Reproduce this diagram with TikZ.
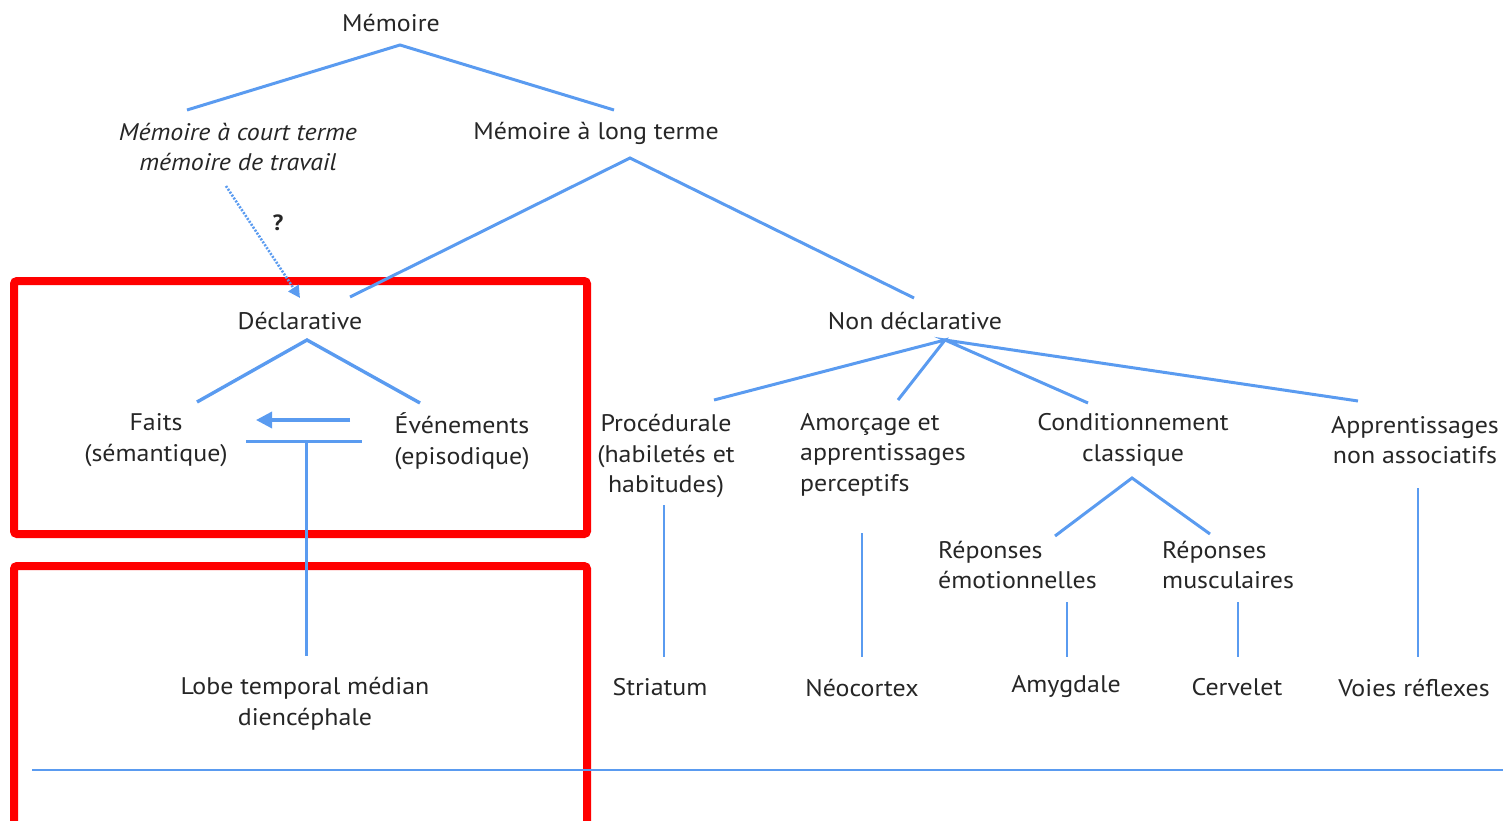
\documentclass[tikz,border=0pt]{standalone}
\usepackage{fontspec}
\setmainfont{PT Sans}[FakeStretch=1.08]
\usetikzlibrary{arrows.meta}
\definecolor{lineblue}{HTML}{5A9BF0}
\definecolor{txt}{HTML}{262626}
\definecolor{frame}{HTML}{FF0000}
\begin{document}
\begin{tikzpicture}[x=1pt,y=-1pt,
  lbl/.style={text=txt,font=\fontsize{24}{30.5}\selectfont,inner sep=0pt,align=center},
  lbll/.style={lbl,align=left,anchor=north west},
  tree/.style={draw=lineblue,line width=3pt},
  thin/.style={draw=lineblue,line width=2pt},
  redbox/.style={draw=frame,line width=8pt,rounded corners=3pt}]
\useasboundingbox (0,0) rectangle (1503,821);
% frames
\draw[redbox] (14,281) rectangle (587,534);
\draw[redbox] (14,566) rectangle (587,830);
% labels
\node[lbl] (mem) at (391,23) {Mémoire};
\node[lbl,font=\fontsize{24}{30.5}\selectfont\itshape] (court) at (238,147) {Mémoire à court terme\\mémoire de travail};
\node[lbl] (long) at (596,133) {Mémoire à long terme};
\node[lbl,font=\fontsize{22}{24}\selectfont\bfseries] (q) at (278,223) {?};
\node[lbl] (decl) at (300,321) {Déclarative};
\node[lbl] (nondecl) at (915,321) {Non déclarative};
\node[lbl] (faits) at (156,440) {Faits\\(sémantique)};
\node[lbl] (even) at (462,441) {Événements\\(episodique)};
\node[lbl] (proc) at (666,456) {Procédurale\\(habiletés et\\habitudes)};
\node[lbll] (amor) at (800,413) {Amorçage et\\apprentissages\\perceptifs};
\node[lbl] (cond) at (1133,440) {Conditionnement\\classique};
\node[lbl] (nonassoc) at (1415,440) {Apprentissages\\non associatifs};
\node[lbll] (emo) at (938,541) {Réponses\\émotionnelles};
\node[lbll] (musc) at (1162,541) {Réponses\\musculaires};
\node[lbl] (lobe) at (305,704) {Lobe temporal médian\\diencéphale};
\node[lbl] (stri) at (660,687) {Striatum};
\node[lbl] (neo) at (862,688) {Néocortex};
\node[lbl] (amyg) at (1066,687) {Amygdale};
\node[lbl] (cerv) at (1237,687) {Cervelet};
\node[lbl] (voies) at (1414,688) {Voies réflexes};
% connector end points
\coordinate (memA) at (400,45);
\coordinate (courtT) at (187,110);
\coordinate (longT) at (614,110);
\coordinate (longA) at (630,158);
\coordinate (declT) at (350,297);
\coordinate (nondeclT) at (914,298);
\coordinate (courtB) at (226,186);
\coordinate (declTa) at (300,298);
\coordinate (declA) at (307,340);
\coordinate (faitsT) at (197,402);
\coordinate (evenT) at (420,403);
\coordinate (evenL) at (350,420);
\coordinate (faitsR) at (256,420);
\coordinate (barL) at (246,441);
\coordinate (barR) at (362,441);
\coordinate (barM) at (306,441);
\coordinate (lobeT) at (306,656);
\coordinate (ndA) at (945,340);
\coordinate (procT) at (714,400);
\coordinate (amorT) at (898,400);
\coordinate (condT) at (1088,403);
\coordinate (nonassocT) at (1358,401);
\coordinate (procB) at (664,505);
\coordinate (striT) at (664,657);
\coordinate (amorB) at (862,533);
\coordinate (neoT) at (862,657);
\coordinate (nonassocB) at (1418,488);
\coordinate (voiesT) at (1418,657);
\coordinate (condA) at (1132,478);
\coordinate (emoT) at (1055,536);
\coordinate (muscT) at (1210,534);
\coordinate (emoB) at (1067,602);
\coordinate (amygT) at (1067,657);
\coordinate (muscB) at (1238,602);
\coordinate (cervT) at (1238,657);
\coordinate (baseL) at (32,770);
\coordinate (baseR) at (1503,770);
% connectors
\draw[tree] (courtT) -- (memA) -- (longT);
\draw[tree] (declT) -- (longA) -- (nondeclT);
\draw[draw=lineblue,line width=2.6pt,dash pattern=on 2pt off 1.5pt,-{Triangle[length=12pt,width=12pt]}] (courtB) -- (declTa);
\draw[tree,line width=3.4pt] (faitsT) -- (declA) -- (evenT);
\draw[tree,line width=3.4pt,-{Triangle[length=16pt,width=16pt]}] (evenL) -- (faitsR);
\draw[tree] (barL) -- (barR);
\draw[tree] (barM) -- (lobeT);
\draw[tree] (procT) -- (ndA) -- (amorT);
\draw[tree] (condT) -- (ndA) -- (nonassocT);
\draw[thin] (procB) -- (striT);
\draw[thin] (amorB) -- (neoT);
\draw[thin] (nonassocB) -- (voiesT);
\draw[tree] (emoT) -- (condA) -- (muscT);
\draw[thin] (emoB) -- (amygT);
\draw[thin] (muscB) -- (cervT);
\draw[draw=lineblue,line width=1.6pt] (baseL) -- (baseR);
\end{tikzpicture}
\end{document}
